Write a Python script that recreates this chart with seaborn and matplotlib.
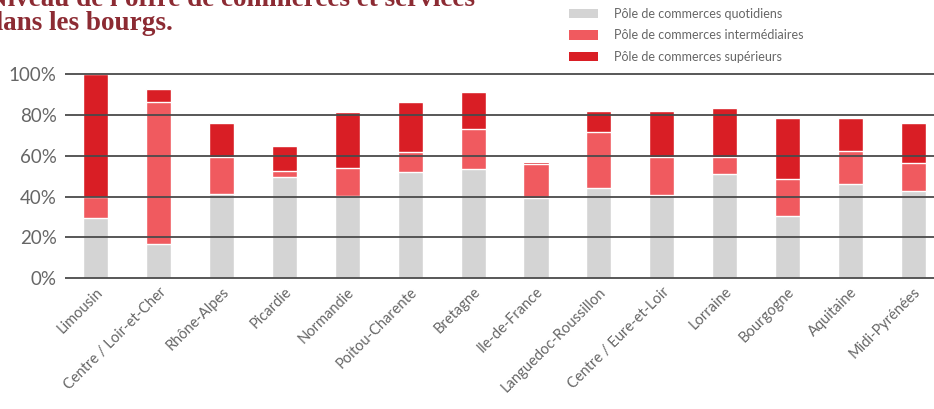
import matplotlib
matplotlib.use('Agg')
import matplotlib.pyplot as plt
import seaborn as sns
import numpy as np
import pandas as pd
from matplotlib.patches import Patch

# --- DONNEES ---
regions = ['Limousin', 'Centre / Loir-et-Cher', 'Rhône-Alpes', 'Picardie', 'Normandie',
           'Poitou-Charente', 'Bretagne', 'Ile-de-France', 'Languedoc-Roussillon',
           'Centre / Eure-et-Loir', 'Lorraine', 'Bourgogne', 'Aquitaine', 'Midi-Pyrénées']
quotidiens = [29.4, 16.6, 41.1, 49.7, 40.3, 52.2, 53.5, 39.2, 44.4, 40.8, 51.0, 30.5, 46.0, 42.9]
intermediaires = [10.6, 69.9, 18.4, 2.8, 13.5, 9.8, 19.8, 16.6, 27.4, 18.7, 8.2, 17.9, 16.4, 13.7]
superieurs = [60.0, 6.0, 16.7, 12.2, 27.4, 24.1, 18.1, 1.0, 10.1, 22.4, 24.0, 29.9, 15.9, 19.6]
legend_labels = ['Pôle de commerces quotidiens', 'Pôle de commerces intermédiaires',
                 'Pôle de commerces supérieurs']
title_lines = ["Niveau de l'offre de commerces et services", "dans les bourgs."]

# --- STYLE ---
sns.set_style('white')
plt.rcParams['font.family'] = ['Lato', 'DejaVu Sans']
gris, rouge_clair, rouge = '#d4d4d4', '#f05a5f', '#d91e25'
texte = '#666666'

df = pd.DataFrame({'region': regions, 'q': quotidiens, 'i': intermediaires, 's': superieurs})
df['qi'] = df['q'] + df['i']
df['qis'] = df['qi'] + df['s']

fig = plt.figure(figsize=(9.34, 4.09), dpi=100)
ax = fig.add_axes([0.0696, 0.3171, 0.9304, 0.5044])

# empilement : du total vers la base
sns.barplot(data=df, x='region', y='qis', color=rouge, width=0.4, saturation=1, ax=ax, zorder=1)
sns.barplot(data=df, x='region', y='qi', color=rouge_clair, width=0.4, saturation=1, ax=ax, zorder=2)
sns.barplot(data=df, x='region', y='q', color=gris, width=0.4, saturation=1, ax=ax, zorder=3)

ax.set_ylim(-0.5, 100.5)
ax.set_xlim(-0.49, 13.33)
ax.set_yticks([0, 20, 40, 60, 80, 100])
ax.set_yticklabels([f'{v}%' for v in [0, 20, 40, 60, 80, 100]], fontsize=13.5, color=texte)
for v in [0, 20, 40, 60, 80, 100]:
    ax.axhline(v, color='#4a4a4a', lw=1.3, zorder=5)
ax.tick_params(axis='y', length=0, pad=6)
ax.tick_params(axis='x', length=0, pad=4)
ax.set_xticks(range(len(regions)))
ax.set_xticklabels(regions, rotation=45, ha='right', rotation_mode='anchor',
                   fontsize=10.5, color=texte)
ax.set_xlabel('')
ax.set_ylabel('')
for sp in ax.spines.values():
    sp.set_visible(False)

# --- LEGENDE ---
handles = [Patch(facecolor=c, edgecolor='none') for c in [gris, rouge_clair, rouge]]
fig.legend(handles, legend_labels, loc='upper left', bbox_to_anchor=(0.597, 1.008),
           frameon=False, fontsize=9, labelcolor=texte, handlelength=2.3,
           handleheight=0.75, handletextpad=1.3, labelspacing=0.75)

# --- TITRE (coupé en haut) ---
for ligne, y in zip(title_lines, [0.985, 0.927]):
    fig.text(-0.013, y, ligne, fontsize=19.5, fontweight='bold', color='#8c2b33',
             family='Liberation Serif', va='baseline', ha='left')

fig.savefig('out.png', dpi=100)
